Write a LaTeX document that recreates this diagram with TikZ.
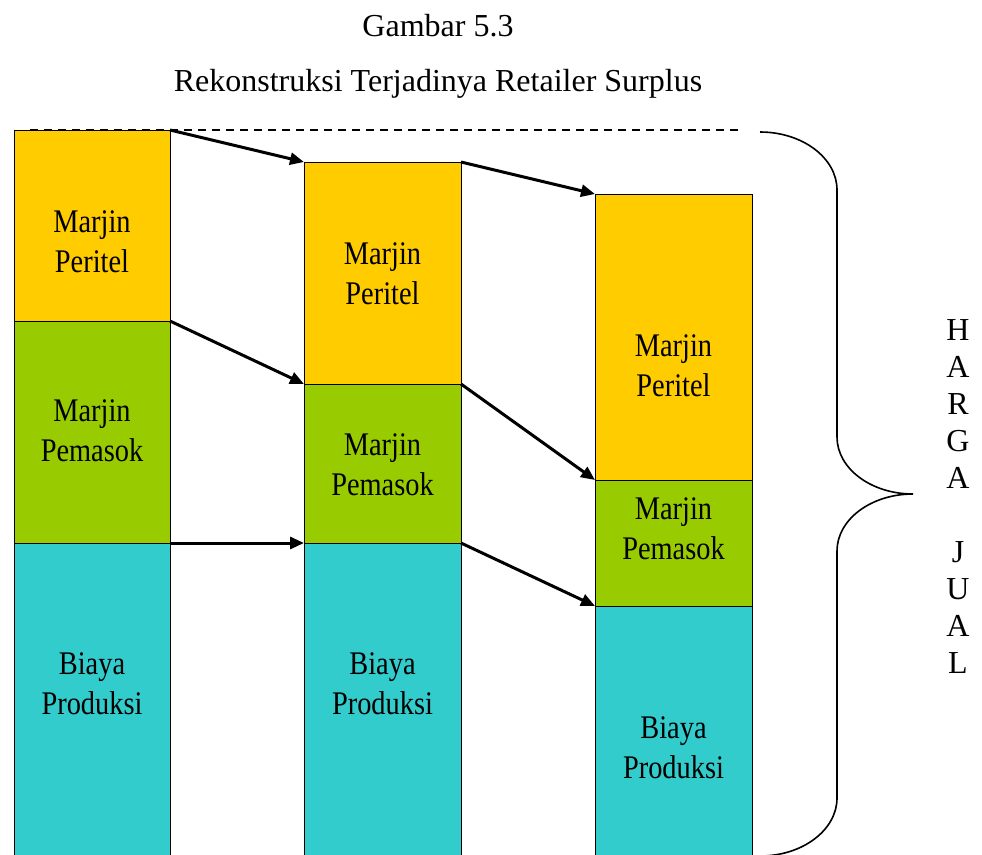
\documentclass[tikz,border=0pt]{standalone}
\usepackage{fontspec}
\setmainfont{Liberation Serif}
\newfontfamily\boxfont[FakeStretch=0.86]{Liberation Serif}
\usetikzlibrary{arrows.meta}
\definecolor{peri}{HTML}{FFCC00}
\definecolor{pema}{HTML}{99CC00}
\definecolor{biay}{HTML}{33CCCC}
\tikzset{
  seg/.style={draw=black, line width=1pt, anchor=north west, inner sep=0pt, outer sep=0pt},
  lbl/.style={font=\boxfont\fontsize{33}{40}\selectfont, align=center, inner sep=0pt},
  conn/.style={line width=3pt, -{Triangle[length=14pt,width=12pt]}},
  ttl/.style={font=\fontsize{32}{37}\selectfont, inner sep=0pt, anchor=base},
}
\begin{document}
\begin{tikzpicture}[x=1pt,y=1pt]
\useasboundingbox (0,0) rectangle (982,-854);
\clip (0,0) rectangle (982,-854);
% title
\node[ttl] (t1) at (438,-36) {Gambar 5.3};
\node[ttl] (t2) at (438,-91) {Rekonstruksi Terjadinya Retailer Surplus};
% column 1
\node[seg, fill=peri, minimum width=156pt, minimum height=191pt] (a1) at (14,-130) {};
\node[seg, fill=pema, minimum width=156pt, minimum height=222pt] (a2) at (14,-321) {};
\node[seg, fill=biay, minimum width=156pt, minimum height=340pt] (a3) at (14,-543) {};
% column 2
\node[seg, fill=peri, minimum width=157pt, minimum height=222pt] (b1) at (304,-162) {};
\node[seg, fill=pema, minimum width=157pt, minimum height=159pt] (b2) at (304,-384) {};
\node[seg, fill=biay, minimum width=157pt, minimum height=340pt] (b3) at (304,-543) {};
% column 3
\node[seg, fill=peri, minimum width=157pt, minimum height=286pt] (c1) at (595,-194) {};
\node[seg, fill=pema, minimum width=157pt, minimum height=126pt] (c2) at (595,-480) {};
\node[seg, fill=biay, minimum width=157pt, minimum height=280pt] (c3) at (595,-606) {};
% labels
\node[lbl] (la1) at (92,-242) {Marjin\\Peritel};
\node[lbl] (la2) at (92,-431) {Marjin\\Pemasok};
\node[lbl] (la3) at (92,-684) {Biaya\\Produksi};
\node[lbl] (lb1) at (382.5,-274) {Marjin\\Peritel};
\node[lbl] (lb2) at (382.5,-465) {Marjin\\Pemasok};
\node[lbl] (lb3) at (382.5,-684) {Biaya\\Produksi};
\node[lbl] (lc1) at (673.5,-366) {Marjin\\Peritel};
\node[lbl] (lc2) at (673.5,-529) {Marjin\\Pemasok};
\node[lbl] (lc3) at (673.5,-748) {Biaya\\Produksi};
% dashed top line
\coordinate (d1) at (30,-130);
\coordinate (d2) at (740,-130);
\draw[line width=1.4pt, dash pattern=on 8pt off 6pt] (d1) -- (d2);
% connectors
\draw[conn] (a1.north east) -- (b1.north west);
\draw[conn] (a2.north east) -- (b2.north west);
\draw[conn] (a3.north east) -- (b3.north west);
\draw[conn] (b1.north east) -- (c1.north west);
\draw[conn] (b2.north east) -- (c2.north west);
\draw[conn] (b3.north east) -- (c3.north west);
% brace
\draw[line width=1.6pt] (760,-132) arc[start angle=90, end angle=0, x radius=77pt, y radius=58pt]
  -- (837,-437) arc[start angle=180, end angle=270, x radius=76pt, y radius=57pt]
  arc[start angle=90, end angle=180, x radius=76pt, y radius=57pt]
  -- (837,-798) arc[start angle=0, end angle=-90, x radius=77pt, y radius=58pt];
% side label
\node[font=\fontsize{32}{37}\selectfont, align=center, inner sep=0pt] (hj) at (958,-497)
  {H\\A\\R\\G\\A\\~\\J\\U\\A\\L};
\end{tikzpicture}
\end{document}
